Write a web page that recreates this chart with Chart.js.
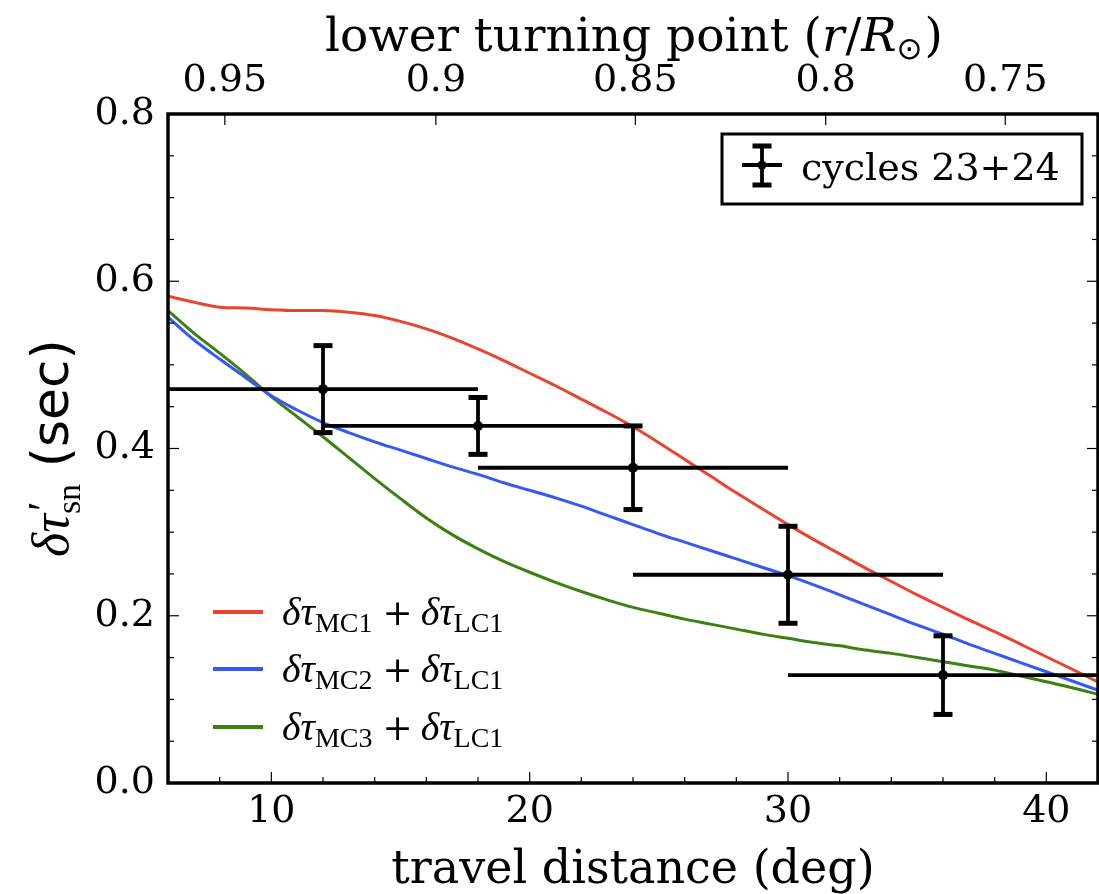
<!DOCTYPE html>
<html><head><meta charset="utf-8">
<script src="https://cdn.jsdelivr.net/npm/chart.js@4.4.1/dist/chart.umd.min.js"></script>
<style>html,body{margin:0;padding:0;background:#fff;overflow:hidden;}#wrap{width:1099px;height:894px;overflow:hidden;position:relative;background:#fff}canvas{display:block;}</style>
</head><body><div id="wrap"><canvas id="c" width="1103" height="894"></canvas></div>
<script>
// ---- data ----
const curveX = [6,7,8,9,10,11,12,13,14,15,16,17,18,19,20,21,22,23,24,25,26,27,28,29,30,31,32,33,34,35,36,37,38,39,40,41,42];
const mc1 = [0.582,0.575,0.569,0.568,0.566,0.565,0.565,0.563,0.559,0.552,0.543,0.532,0.519,0.505,0.490,0.475,0.459,0.443,0.426,0.407,0.387,0.367,0.347,0.328,0.309,0.291,0.274,0.257,0.241,0.225,0.210,0.195,0.181,0.166,0.151,0.136,0.121];
const mc2 = [0.557,0.530,0.507,0.485,0.463,0.446,0.431,0.419,0.408,0.398,0.388,0.378,0.369,0.359,0.350,0.341,0.331,0.320,0.309,0.298,0.288,0.278,0.268,0.258,0.248,0.237,0.225,0.213,0.201,0.189,0.178,0.166,0.155,0.144,0.133,0.122,0.111];
const mc3 = [0.565,0.538,0.514,0.489,0.462,0.438,0.414,0.389,0.364,0.340,0.317,0.297,0.280,0.265,0.252,0.240,0.229,0.219,0.210,0.203,0.196,0.190,0.184,0.178,0.173,0.168,0.164,0.159,0.155,0.150,0.145,0.140,0.135,0.128,0.121,0.114,0.106];
const obsX = [12,18,24,30,36];
const obsY = [0.471,0.427,0.377,0.249,0.129];
const obsXErr = [6,6,6,6,6];
const obsYErr = [0.052,0.034,0.050,0.058,0.047];
const obsLabel = 'cycles 23+24';
const curveSub = ['MC1','MC2','MC3'];
const bottomTicks = [10,20,30,40];
const bottomMinor = [8,12,14,16,18,22,24,26,28,32,34,36,38];
const yTicks = [0,0.2,0.4,0.6,0.8];
const yMinor = [0.05,0.1,0.15,0.25,0.3,0.35,0.45,0.5,0.55,0.65,0.7,0.75];
const topTickDeg = [8.2,16.37,24.09,31.46,38.41];
const topTickLabels = ['0.95','0.9','0.85','0.8','0.75'];

const colors = ['#E8442F','#3558F6','#3E7F12'];
const SERIF = "'DejaVu Serif'";
const MATH = "'Liberation Serif'";

function runsWidth(ctx, runs){
  let w=0, i=0;
  while(i<runs.length){
    const r=runs[i];
    ctx.font=r.f; let a=ctx.measureText(r.t).width;
    if(r.stack && i+1<runs.length){ctx.font=runs[i+1].f; a=Math.max(a,ctx.measureText(runs[i+1].t).width); i+=2;} else i++;
    w+=a + (r.gap||0);
  }
  return w;
}
function drawRuns(ctx, runs, x, y, align){
  let cx = x;
  if(align==='center') cx = x - runsWidth(ctx,runs)/2;
  ctx.textBaseline='alphabetic'; ctx.textAlign='left'; ctx.fillStyle='#000';
  let i=0;
  while(i<runs.length){
    const r=runs[i];
    ctx.font=r.f; let a=ctx.measureText(r.t).width; ctx.fillText(r.t,cx+(r.dx||0),y+(r.dy||0));
    if(r.stack && i+1<runs.length){const n=runs[i+1]; ctx.font=n.f; a=Math.max(a,ctx.measureText(n.t).width); ctx.fillText(n.t,cx,y+(n.dy||0)); i+=2;} else i++;
    cx += a + (r.gap||0);
  }
}
function seg(ctx,x0,y0,x1,y1){ctx.beginPath();ctx.moveTo(x0,y0);ctx.lineTo(x1,y1);ctx.stroke();}

const decor = {
  id:'decor',
  afterDatasetsDraw(chart){
    const {ctx, chartArea:ca} = chart; const x=chart.scales.x, y=chart.scales.y;
    ctx.save(); ctx.beginPath(); ctx.rect(ca.left,ca.top,ca.right-ca.left,ca.bottom-ca.top); ctx.clip();
    ctx.strokeStyle='#000'; ctx.lineCap='butt';
    obsX.forEach((xv,i)=>{
      const px=x.getPixelForValue(xv), py=y.getPixelForValue(obsY[i]);
      const x0=x.getPixelForValue(xv-obsXErr[i]), x1=x.getPixelForValue(xv+obsXErr[i]);
      const y0=y.getPixelForValue(obsY[i]-obsYErr[i]), y1=y.getPixelForValue(obsY[i]+obsYErr[i]);
      ctx.lineWidth=3.8; seg(ctx,x0,py,x1,py); seg(ctx,px,y0,px,y1);
      ctx.lineWidth=5; seg(ctx,px-9.5,y0,px+9.5,y0); seg(ctx,px-9.5,y1,px+9.5,y1);
    });
    ctx.restore();
  },
  afterDraw(chart){
    const {ctx, chartArea:ca} = chart; const x=chart.scales.x, y=chart.scales.y, x2=chart.scales.x2;
    ctx.save();
    ctx.strokeStyle='#000';
    ctx.lineWidth=1.2;
    bottomTicks.forEach(v=>{const p=x.getPixelForValue(v); seg(ctx,p,ca.bottom,p,ca.bottom-11);});
    bottomMinor.forEach(v=>{const p=x.getPixelForValue(v); seg(ctx,p,ca.bottom,p,ca.bottom-6);});
    topTickDeg.forEach(v=>{const p=x2.getPixelForValue(v); seg(ctx,p,ca.top,p,ca.top+11);});
    yTicks.forEach(v=>{const p=y.getPixelForValue(v); seg(ctx,ca.left,p,ca.left+11,p); seg(ctx,ca.right,p,ca.right-11,p);});
    yMinor.forEach(v=>{const p=y.getPixelForValue(v); seg(ctx,ca.left,p,ca.left+6,p); seg(ctx,ca.right,p,ca.right-6,p);});
    ctx.lineWidth=3.5;
    ctx.strokeRect(ca.left,ca.top,ca.right-ca.left,ca.bottom-ca.top);
    const cx=(ca.left+ca.right)/2;
    drawRuns(ctx,[{t:'travel distance (deg)',f:`46px ${SERIF}`}],cx,883,'center');
    drawRuns(ctx,[
      {t:'lower turning point (',f:`47px ${SERIF}`},
      {t:'r',f:`italic 47px ${SERIF}`,gap:1},
      {t:'/',f:`47px ${SERIF}`},
      {t:'R',f:`italic 47px ${SERIF}`},
      {t:'\u2299',f:`31px 'DejaVu Sans'`,dy:8,gap:2},
      {t:')',f:`47px ${SERIF}`}
    ],cx+1,51,'center');
    ctx.save(); ctx.translate(68,448); ctx.rotate(-Math.PI/2);
    drawRuns(ctx,[
      {t:'\u03B4\u03C4',f:`italic 52px ${MATH}`},
      {t:'\u2032',f:`44px ${MATH}`,dy:-10,dx:3,stack:true},
      {t:'sn',f:`34px ${MATH}`,dy:12},
      {t:' (sec)',f:`52px 'DejaVu Sans'`}
    ],0,0,'center');
    ctx.restore();
    ctx.lineWidth=3; ctx.strokeRect(722,134,360,70);
    ctx.lineWidth=3.8; seg(ctx,742,165,782,165); seg(ctx,762,146,762,185);
    ctx.lineWidth=5; seg(ctx,752.5,146,771.5,146); seg(ctx,752.5,185,771.5,185);
    ctx.fillStyle='#000'; ctx.beginPath(); ctx.arc(762,165,4.5,0,Math.PI*2); ctx.fill();
    ctx.font=`38px ${SERIF}`; ctx.textBaseline='alphabetic'; ctx.textAlign='left'; ctx.fillText(obsLabel,801,180);
    const rows=[612,669,727];
    rows.forEach((ry,i)=>{
      ctx.strokeStyle=colors[i]; ctx.lineWidth=4; seg(ctx,213,ry,263,ry);
      drawRuns(ctx,[
        {t:'\u03B4\u03C4',f:`italic 40px ${MATH}`},
        {t:curveSub[i],f:`28px ${MATH}`,dy:7,gap:10},
        {t:'+',f:`36px ${SERIF}`,gap:8},
        {t:'\u03B4\u03C4',f:`italic 40px ${MATH}`},
        {t:'LC1',f:`28px ${MATH}`,dy:7}
      ],282,ry+13,'left');
    });
    ctx.restore();
  }
};

const tickFont = {family:'DejaVu Serif', size:38};
const ctx = document.getElementById('c').getContext('2d');
new Chart(ctx,{
  type:'line',
  data:{datasets:[
    {type:'scatter',label:obsLabel,data:obsX.map((v,i)=>({x:v,y:obsY[i]})),pointRadius:5,pointBackgroundColor:'#000',pointBorderColor:'#000',pointBorderWidth:0,showLine:false},
    {label:'MC1',data:curveX.map((v,i)=>({x:v,y:mc1[i]})),borderColor:colors[0],borderWidth:3,pointRadius:0,cubicInterpolationMode:'monotone',fill:false},
    {label:'MC2',data:curveX.map((v,i)=>({x:v,y:mc2[i]})),borderColor:colors[1],borderWidth:3,pointRadius:0,cubicInterpolationMode:'monotone',fill:false},
    {label:'MC3',data:curveX.map((v,i)=>({x:v,y:mc3[i]})),borderColor:colors[2],borderWidth:3,pointRadius:0,cubicInterpolationMode:'monotone',fill:false}
  ]},
  options:{
    responsive:false, animation:false, devicePixelRatio:1,
    layout:{padding:{left:0,right:2,top:0,bottom:0}},
    plugins:{legend:{display:false},tooltip:{enabled:false}},
    scales:{
      x:{type:'linear',position:'bottom',min:6,max:42,
        afterBuildTicks:s=>{s.ticks=bottomTicks.map(v=>({value:v}));},
        afterFit:s=>{s.height=111;},
        ticks:{font:tickFont,color:'#000',padding:6,autoSkip:false,maxRotation:0,callback:v=>String(v)},
        grid:{display:false,drawTicks:false},border:{display:false}},
      x2:{type:'linear',position:'top',min:6,max:42,
        afterBuildTicks:s=>{s.ticks=topTickDeg.map(v=>({value:v}));},
        afterFit:s=>{s.height=114;},
        ticks:{font:tickFont,color:'#000',padding:10,autoSkip:false,maxRotation:0,callback:(v,i)=>topTickLabels[i]},
        grid:{display:false,drawTicks:false},border:{display:false}},
      y:{type:'linear',position:'left',min:0,max:0.8,
        afterBuildTicks:s=>{s.ticks=yTicks.map(v=>({value:v}));},
        afterFit:s=>{s.width=168;},
        ticks:{font:tickFont,color:'#000',padding:13,autoSkip:false,callback:v=>v.toFixed(1)},
        grid:{display:false,drawTicks:false},border:{display:false}}
    }
  },
  plugins:[decor]
});
</script></body></html>
